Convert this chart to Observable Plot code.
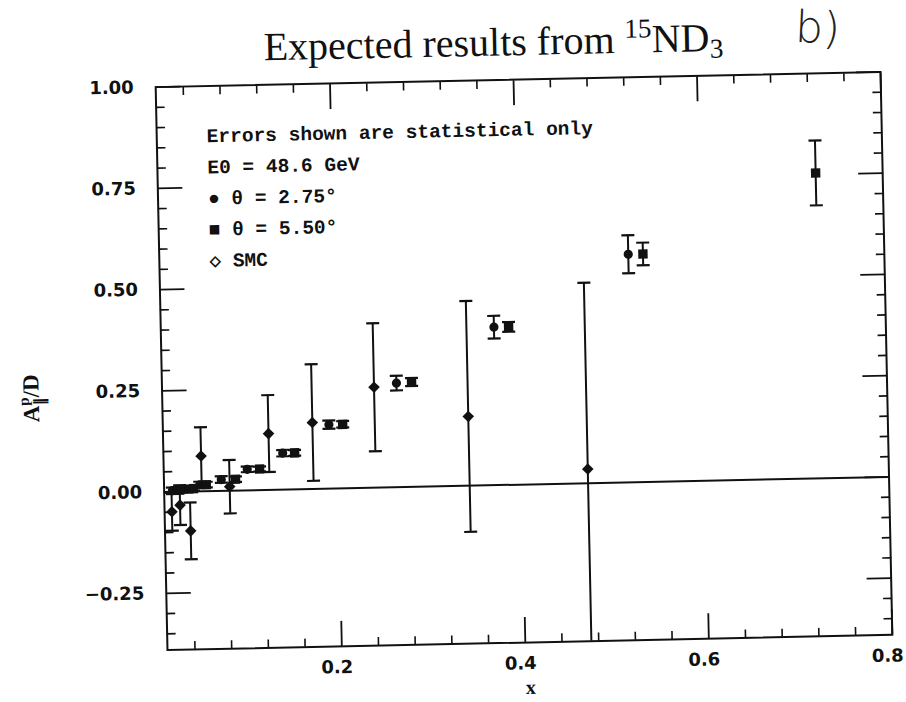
<!DOCTYPE html>
<html>
<head>
<meta charset="utf-8">
<script src="https://cdn.jsdelivr.net/npm/d3@7"></script>
<script src="https://cdn.jsdelivr.net/npm/@observablehq/plot@0.6"></script>
<style>
  html, body { margin: 0; padding: 0; background: #fff; width: 906px; height: 702px; overflow: hidden; }
  #wrap { position: relative; width: 906px; height: 702px; transform: rotate(-1.2deg); transform-origin: 523.5px 360.5px; }
  #title { position: absolute; left: 0; top: 0; width: 906px; height: 66px; }
  #title .t { position: absolute; left: 500px; top: 22px; transform: translateX(-50%); white-space: nowrap;
              font-family: "Liberation Serif", serif; font-size: 40px; line-height: 1; color: #111; }
  #title .t sup { font-size: 0.68em; vertical-align: 0.55em; line-height: 0; }
  #title .t sub { font-size: 0.68em; vertical-align: -0.25em; line-height: 0; }
  #title .b { position: absolute; left: 802px; top: 12px; font-family: "DejaVu Sans", sans-serif; font-weight: 200;
              font-size: 44px; line-height: 1; color: #222; transform: rotate(4deg); }
  #chart { position: absolute; left: 0; top: 66px; }
</style>
</head>
<body>
<div id="wrap">
  <div id="title"><span class="t">Expected results from <sup>15</sup>ND<sub>3</sub></span><span class="b">b)</span></div>
  <div id="chart"></div>
</div>
<script>
// ---- data ----
const circleX = [0.019, 0.035, 0.049, 0.0725, 0.101, 0.140, 0.191, 0.2655, 0.373, 0.521];
const circleY = [0.003, 0.006, 0.016, 0.028, 0.052, 0.090, 0.158, 0.257, 0.390, 0.563];
const circleE = [0.008, 0.008, 0.008, 0.008, 0.007, 0.008, 0.010, 0.018, 0.028, 0.047];

const squareX = [0.027, 0.042, 0.056, 0.088, 0.1145, 0.153, 0.206, 0.282, 0.389, 0.537, 0.727];
const squareY = [0.004, 0.007, 0.016, 0.028, 0.052, 0.090, 0.158, 0.259, 0.390, 0.563, 0.754];
const squareE = [0.006, 0.006, 0.007, 0.007, 0.006, 0.007, 0.008, 0.010, 0.012, 0.028, 0.080];

const smcX = [0.018, 0.027, 0.038, 0.051, 0.0815, 0.125, 0.173, 0.241, 0.343, 0.472];
const smcY = [-0.049, -0.033, -0.097, 0.087, 0.010, 0.139, 0.164, 0.248, 0.171, 0.035];
const smcE = [0.047, 0.049, 0.070, 0.071, 0.066, 0.095, 0.144, 0.158, 0.285, 0.460];

const xDomain = [0.01, 0.8];
const yDomain = [-0.39, 1.0];
const xMajorTicks = [0.2, 0.4, 0.6, 0.8];
const xMinorTicks = [0.04, 0.08, 0.12, 0.16, 0.24, 0.28, 0.32, 0.36, 0.44, 0.48, 0.52, 0.56, 0.64, 0.68, 0.72, 0.76];
const yMajorTicks = [-0.25, 0, 0.25, 0.5, 0.75, 1.0];
const yMinorTicks = [-0.35, -0.3, -0.2, -0.15, -0.1, -0.05, 0.05, 0.1, 0.15, 0.2, 0.3, 0.35, 0.4, 0.45,
                     0.55, 0.6, 0.65, 0.7, 0.8, 0.85, 0.9, 0.95];
const legendLines = ["Errors shown are statistical only", "E0 = 48.6 GeV", "● θ = 2.75°", "■ θ = 5.50°", "◇ SMC"];

// ---- tables ----
const mk = (X, Y, E) => X.map((x, i) => ({x, y: Y[i], e: E[i]}));
const circles = mk(circleX, circleY, circleE);
const squares = mk(squareX, squareY, squareE);
const smc = mk(smcX, smcY, smcE);
const allPts = [...circles, ...squares, ...smc];
const caps = allPts.flatMap(d => [{x: d.x, y: d.y - d.e}, {x: d.x, y: d.y + d.e}]);

// ---- custom symbols ----
const capSym = {draw(ctx, size) { const w = Math.sqrt(size / Math.PI); ctx.moveTo(-w, 0); ctx.lineTo(w, 0); }};
const diamondSym = {draw(ctx, size) { const r = Math.sqrt(size / Math.PI); ctx.moveTo(0, -r); ctx.lineTo(r, 0); ctx.lineTo(0, r); ctx.lineTo(-r, 0); ctx.closePath(); }};
const squareSym = {draw(ctx, size) { const s = Math.sqrt(size / Math.PI); ctx.rect(-s, -s, 2 * s, 2 * s); }};

const tickFont = {fontFamily: "DejaVu Sans, sans-serif", fontSize: 18, fontWeight: "bold", fill: "#111"};
const noText = () => "";

const chart = Plot.plot({
  width: 906,
  height: 636,
  marginLeft: 161,
  marginRight: 20,
  marginTop: 13,
  marginBottom: 60,
  style: {background: "transparent", overflow: "visible", color: "#111"},
  x: {domain: xDomain},
  y: {domain: yDomain},
  marks: [
    // ticks on four sides, pointing inward
    Plot.axisX(xMajorTicks, {anchor: "bottom", tickSize: -25, tickFormat: noText, label: null, strokeWidth: 1.8}),
    Plot.axisX(xMinorTicks, {anchor: "bottom", tickSize: -8, tickFormat: noText, label: null, strokeWidth: 1.6}),
    Plot.axisX(xMajorTicks, {anchor: "top", tickSize: -25, tickFormat: noText, label: null, strokeWidth: 1.8}),
    Plot.axisX(xMinorTicks, {anchor: "top", tickSize: -8, tickFormat: noText, label: null, strokeWidth: 1.6}),
    Plot.axisY(yMajorTicks, {anchor: "left", tickSize: -25, tickFormat: noText, label: null, strokeWidth: 1.8}),
    Plot.axisY(yMinorTicks, {anchor: "left", tickSize: -9, tickFormat: noText, label: null, strokeWidth: 1.6}),
    Plot.axisY(yMajorTicks, {anchor: "right", tickSize: -25, tickFormat: noText, label: null, strokeWidth: 1.8}),
    Plot.axisY(yMinorTicks, {anchor: "right", tickSize: -9, tickFormat: noText, label: null, strokeWidth: 1.6}),
    // tick labels
    Plot.axisX(xMajorTicks, {anchor: "bottom", tickSize: 0, tickPadding: 14, dx: -5, tickFormat: d3.format(".1f"), label: null, ...tickFont}),
    Plot.axisY(yMajorTicks, {anchor: "left", tickSize: 0, tickPadding: 22, tickFormat: d3.format(".2f"), label: null, ...tickFont}),
    Plot.frame({strokeWidth: 2, stroke: "#111"}),
    Plot.ruleY([0], {strokeWidth: 2, stroke: "#111"}),
    // error bars and caps
    Plot.ruleX(allPts, {x: "x", y1: d => d.y - d.e, y2: d => d.y + d.e, strokeWidth: 2, stroke: "#111", clip: true}),
    Plot.dot(caps, {x: "x", y: "y", symbol: capSym, r: 6.5, stroke: "#111", fill: "none", strokeWidth: 2.2, clip: true}),
    // markers
    Plot.dot(smc, {x: "x", y: "y", symbol: diamondSym, r: 5.8, fill: "#111", stroke: "none"}),
    Plot.dot(circles, {x: "x", y: "y", r: 4.6, fill: "#111", stroke: "none"}),
    Plot.dot(squares, {x: "x", y: "y", symbol: squareSym, r: 4.7, fill: "#111", stroke: "none"}),
    // legend block
    Plot.text([legendLines.join("\n")], {frameAnchor: "top-left", dx: 50, dy: 34, lineAnchor: "top", textAnchor: "start",
      lineHeight: 1.6, fontFamily: "Liberation Mono, monospace", fontSize: 19.5, fontWeight: "bold", fill: "#111"}),
    // x axis title
    Plot.text(["x"], {frameAnchor: "bottom", dy: 45, lineAnchor: "middle", fontFamily: "Liberation Serif, serif",
      fontSize: 20, fontWeight: "bold", fill: "#111"})
  ]
});
document.getElementById("chart").appendChild(chart);

// y axis title with sub/superscripts
const lab = d3.select(chart).append("text")
  .attr("transform", "translate(38,322) rotate(-90)")
  .attr("text-anchor", "middle")
  .attr("font-family", "Liberation Serif, serif")
  .attr("font-weight", "bold")
  .attr("font-size", 23)
  .attr("fill", "#111");
lab.append("tspan").text("A");
lab.append("tspan").attr("font-size", 15).attr("dy", -10).text("p");
lab.append("tspan").attr("font-size", 15).attr("dx", -8).attr("dy", 16).text("∥");
lab.append("tspan").attr("dy", -6).text("/D");
</script>
</body>
</html>
